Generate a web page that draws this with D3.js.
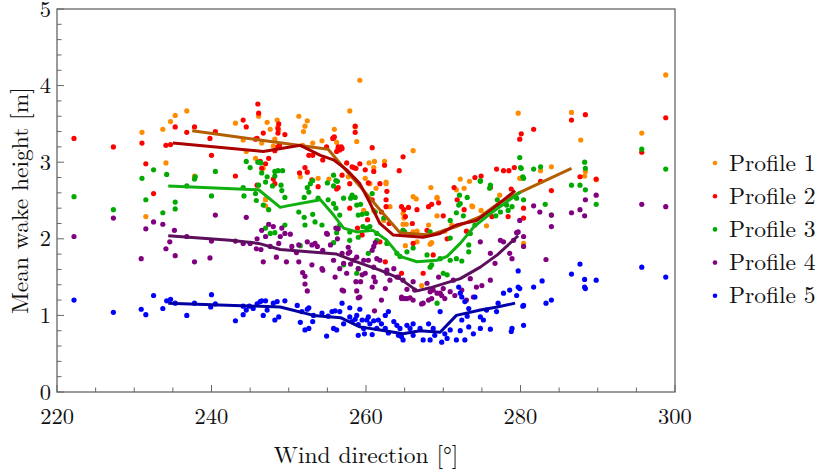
<!DOCTYPE html>
<html>
<head>
<meta charset="utf-8">
<script src="https://cdn.jsdelivr.net/npm/d3@7"></script>
<style>
body { margin: 0; background: #fff; }
</style>
</head>
<body>
<div id="chart"></div>
<script>
let CHART_WIDTH = 818;
let CHART_HEIGHT = 473;
let FONT = "'Latin Modern Roman', 'Liberation Serif', serif";

var seriesNames = ["Profile 1", "Profile 2", "Profile 3", "Profile 4", "Profile 5"];
var xTicks = [220, 240, 260, 280, 300];
var yTicks = [0, 1, 2, 3, 4, 5];

// scatter points [wind direction, mean wake height]
var profile1Points = [[231.0,3.39],[233.7,3.43],[234.1,2.99],[234.7,3.53],[235.3,3.61],[236.8,3.67],[237.8,2.82],[243.1,3.51],[244.5,3.14],[246.1,3.60],[245.7,3.05],[247.2,3.52],[247.6,3.43],[248.0,3.21],[248.5,3.55],[248.6,3.46],[231.5,2.29],[247.0,2.51],[244.1,3.29],[246.7,2.92],[246.5,3.25],[247.0,2.43],[248.2,3.30],[248.7,3.42],[251.3,3.60],[251.9,3.40],[252.1,3.47],[252.4,3.54],[251.8,3.22],[253.1,3.25],[251.5,2.81],[253.8,2.79],[254.3,3.28],[255.2,2.78],[255.9,3.43],[256.2,3.26],[256.3,3.16],[257.7,2.81],[257.9,3.67],[258.6,3.46],[258.8,3.27],[259.2,4.07],[260.4,2.99],[261.1,3.01],[261.0,2.93],[259.9,2.79],[260.5,2.72],[261.3,2.66],[259.7,2.37],[261.0,2.37],[247.0,2.52],[262.4,3.01],[262.6,2.74],[266.1,3.15],[268.4,2.67],[269.2,2.53],[272.2,2.78],[273.4,2.75],[272.7,2.66],[271.7,2.64],[279.7,3.64],[280.0,2.79],[282.6,2.89],[284.0,2.94],[286.6,3.65],[287.8,3.29],[288.3,2.82],[288.4,2.88],[289.8,2.77],[295.7,3.38],[298.8,4.14],[262.6,2.72],[266.1,2.55],[266.5,2.52],[263.1,2.42],[264.8,2.33],[264.9,2.27],[265.2,2.19],[266.1,2.09],[269.2,2.54],[269.2,2.30],[268.1,2.18],[273.8,2.42],[274.9,2.37],[275.6,2.17],[277.3,2.57],[279.9,2.79],[262.3,2.24],[265.1,1.91],[266.6,1.96],[267.2,1.39],[268.3,1.93],[280.4,1.94],[264.8,2.19],[266.6,2.10],[268.5,1.95],[270.2,2.10],[271.1,2.18],[273.7,2.43]];
var profile2Points = [[222.2,3.31],[227.3,3.20],[231.0,3.25],[231.5,2.98],[232.5,2.59],[234.1,3.22],[234.7,3.23],[235.3,3.46],[237.8,3.46],[236.8,3.39],[240.0,3.09],[240.5,3.40],[239.8,3.31],[243.1,2.82],[244.1,3.55],[244.5,3.46],[246.0,3.76],[246.1,3.64],[245.9,3.31],[245.7,3.30],[246.3,3.01],[246.5,2.92],[247.0,2.98],[247.4,3.05],[246.7,3.38],[248.0,2.78],[248.2,2.72],[245.9,2.70],[248.6,3.20],[248.7,3.50],[248.6,3.44],[248.8,3.22],[248.6,3.38],[249.5,3.36],[248.2,3.15],[251.4,2.86],[252.1,2.93],[252.4,2.87],[252.6,3.09],[253.1,3.09],[253.0,2.77],[253.8,2.68],[254.4,3.03],[255.7,3.31],[255.9,3.33],[256.4,3.20],[256.6,3.16],[256.9,3.18],[256.2,3.14],[256.2,2.65],[256.4,2.67],[256.9,2.83],[257.9,2.72],[257.9,2.40],[258.4,2.93],[258.7,2.92],[259.2,2.98],[258.6,3.47],[258.6,3.39],[260.8,3.19],[259.9,2.90],[260.3,2.73],[260.8,2.51],[254.9,3.20],[255.8,3.32],[256.8,3.20],[262.4,2.96],[261.0,2.88],[262.7,2.62],[261.8,2.72],[262.6,2.51],[262.6,2.42],[264.8,3.07],[264.3,2.89],[264.6,2.42],[264.9,2.38],[265.1,2.29],[265.5,2.41],[266.6,2.38],[268.1,2.42],[268.5,2.45],[269.4,2.47],[267.9,2.11],[271.4,2.67],[271.8,2.51],[272.7,2.38],[274.1,2.80],[274.9,2.82],[276.1,2.67],[276.3,2.29],[276.9,2.91],[277.8,2.89],[278.5,2.89],[279.2,2.93],[278.8,2.65],[279.9,3.30],[280.1,3.37],[280.4,2.40],[280.4,2.27],[278.4,2.29],[281.7,3.43],[282.6,2.75],[284.0,2.63],[286.6,3.55],[288.4,3.62],[287.7,2.81],[289.8,2.78],[295.7,3.13],[298.8,3.58],[257.5,2.99],[258.2,2.94],[261.8,1.96],[262.5,1.70],[264.6,1.55],[266.1,1.94],[267.4,1.55],[268.7,1.79],[264.8,2.11],[258.9,2.14],[259.5,2.05],[260.2,2.25],[263.0,2.20],[266.0,2.20],[270.5,2.00],[273.0,2.10],[262.0,2.35],[270.0,2.30]];
var profile3Points = [[222.2,2.55],[227.3,2.38],[231.0,2.79],[231.5,2.51],[232.5,2.90],[233.7,2.34],[234.2,2.84],[235.3,2.48],[235.3,2.39],[236.8,2.69],[237.8,2.78],[237.9,2.81],[240.0,2.56],[240.5,2.88],[244.1,2.67],[244.2,2.56],[244.5,3.01],[245.0,2.93],[245.7,2.59],[245.8,2.50],[246.0,3.00],[246.4,2.99],[246.5,2.86],[246.1,2.70],[246.7,2.44],[247.0,2.74],[247.2,2.81],[247.4,2.38],[247.0,2.14],[247.6,2.07],[248.2,2.88],[248.2,2.82],[248.2,2.08],[247.9,2.69],[248.6,2.89],[249.0,2.70],[249.1,2.63],[249.2,2.89],[249.5,2.54],[249.5,2.18],[251.3,2.35],[251.5,1.91],[252.0,2.54],[252.0,2.28],[252.1,2.18],[252.4,2.67],[252.6,2.61],[252.8,2.72],[253.1,2.76],[253.1,2.32],[253.4,2.22],[253.8,2.53],[254.3,2.18],[255.0,2.73],[255.1,2.51],[255.8,2.83],[256.1,2.76],[255.8,2.69],[256.3,2.75],[255.8,2.46],[256.1,2.40],[256.6,2.31],[255.8,1.95],[256.2,2.08],[256.6,2.18],[257.1,2.53],[257.9,2.09],[257.9,1.98],[258.0,2.53],[258.2,2.57],[258.6,2.54],[258.8,2.44],[259.3,2.45],[259.0,2.31],[259.5,2.32],[260.1,2.33],[260.8,2.59],[261.2,2.35],[259.0,2.02],[257.1,1.66],[258.8,1.55],[259.0,1.61],[260.3,1.81],[260.1,2.14],[260.5,2.16],[261.4,2.07],[261.4,1.98],[259.6,2.16],[262.3,2.27],[264.8,2.11],[265.0,2.09],[268.3,2.09],[270.9,2.24],[272.0,2.44],[272.2,2.46],[273.1,2.54],[271.7,2.34],[272.6,2.30],[272.1,2.57],[274.8,2.76],[276.1,2.70],[276.0,2.66],[277.0,2.51],[277.1,2.44],[278.4,2.37],[278.9,2.42],[279.5,2.53],[280.3,2.81],[279.9,3.06],[280.1,2.92],[280.4,2.51],[278.2,2.44],[277.4,2.35],[276.8,2.30],[274.1,2.18],[273.5,2.07],[270.9,2.01],[262.7,1.94],[264.0,1.81],[264.4,1.77],[265.3,1.83],[266.1,1.88],[267.9,1.79],[268.3,1.63],[268.5,1.66],[269.6,1.74],[270.0,1.55],[270.5,1.53],[270.9,1.72],[271.7,1.74],[272.4,1.71],[273.3,1.83],[273.3,1.92],[269.2,1.16],[283.2,2.45],[284.0,2.31],[286.6,2.70],[287.7,2.70],[288.3,3.00],[288.4,2.92],[288.4,2.64],[289.8,2.45],[295.7,3.17],[298.8,2.91],[280.0,2.93],[280.4,2.79],[281.7,2.91],[282.6,2.94],[274.8,2.75]];
var profile4Points = [[222.2,2.03],[227.3,2.27],[230.9,1.74],[231.5,2.13],[232.5,2.22],[233.7,2.19],[234.1,1.87],[234.6,1.96],[235.2,2.11],[235.3,1.78],[236.8,2.03],[237.8,1.70],[239.8,1.75],[240.5,2.31],[240.0,1.97],[243.1,1.97],[244.5,2.28],[244.1,1.94],[245.0,1.94],[245.9,2.00],[245.8,1.87],[246.7,1.70],[246.5,2.11],[247.0,2.03],[247.4,2.19],[247.6,1.90],[248.0,2.16],[248.4,1.76],[248.7,1.94],[246.4,1.86],[248.9,2.03],[249.1,2.14],[249.7,1.70],[250.4,1.90],[251.0,1.82],[251.3,1.70],[252.4,1.96],[253.0,1.92],[253.7,1.90],[254.4,1.85],[255.0,2.06],[255.4,1.92],[256.1,2.14],[256.3,2.00],[255.8,1.72],[256.6,1.61],[256.9,1.81],[254.4,1.59],[251.8,1.56],[252.1,1.51],[252.1,1.41],[252.4,1.32],[256.0,1.50],[257.1,1.32],[257.7,1.81],[258.0,1.67],[257.7,1.89],[258.8,1.76],[259.0,1.61],[258.7,1.44],[258.8,1.32],[259.0,1.23],[259.5,1.53],[259.9,1.55],[259.3,1.44],[260.3,1.72],[260.8,1.85],[261.0,1.50],[260.8,1.37],[261.2,1.44],[261.4,1.74],[261.0,1.90],[261.2,1.95],[261.1,1.06],[249.5,2.07],[250.2,2.06],[251.3,1.92],[253.0,1.66],[253.4,1.94],[254.3,1.61],[254.9,2.07],[256.4,2.13],[257.1,1.68],[256.9,1.33],[257.5,1.55],[257.9,1.83],[258.4,1.72],[259.2,1.24],[259.7,1.72],[261.0,1.63],[261.8,1.72],[262.5,1.35],[262.7,1.59],[263.1,1.46],[264.0,1.50],[264.6,1.22],[265.0,1.22],[265.3,1.34],[265.7,1.23],[266.1,1.44],[266.3,1.33],[267.2,1.15],[267.9,1.42],[268.5,1.22],[268.7,1.33],[269.4,1.50],[269.6,1.29],[270.0,1.35],[270.2,1.22],[270.9,1.31],[271.3,1.46],[271.5,1.26],[272.4,1.33],[273.0,1.20],[273.5,1.48],[273.9,1.24],[274.3,1.37],[274.8,1.96],[275.0,1.39],[276.1,1.81],[276.1,1.46],[276.7,1.68],[277.4,1.98],[277.8,1.96],[278.6,1.81],[278.9,1.74],[279.1,1.98],[279.5,2.08],[279.7,2.09],[280.4,2.03],[280.4,1.90],[279.9,2.24],[281.7,2.43],[282.5,2.35],[283.3,1.73],[284.0,2.16],[284.0,2.31],[286.6,2.34],[287.7,2.38],[288.3,2.30],[288.4,2.51],[289.8,2.57],[295.7,2.45],[298.8,2.42],[262.7,1.55],[263.6,1.61],[264.2,1.50],[264.8,1.46],[265.3,1.22],[266.1,1.20],[262.0,1.20],[264.6,1.24],[267.4,1.16],[268.3,1.31],[269.2,1.29],[269.8,1.26],[268.1,1.20]];
var profile5Points = [[222.2,1.20],[227.3,1.04],[230.9,1.08],[231.5,1.01],[232.5,1.26],[233.7,1.09],[234.2,1.19],[234.7,1.21],[235.3,1.16],[236.8,1.00],[237.8,1.16],[240.0,1.27],[239.9,1.11],[240.5,1.15],[243.1,0.93],[244.1,1.01],[244.5,1.07],[244.1,1.12],[244.9,1.12],[245.4,1.09],[245.9,1.15],[246.3,1.18],[247.0,1.19],[246.7,1.00],[247.2,1.07],[248.5,1.18],[248.2,0.94],[246.5,1.19],[248.0,1.16],[249.5,1.19],[248.7,0.98],[251.1,1.13],[251.7,1.05],[252.4,1.08],[252.6,1.10],[251.5,0.91],[252.1,0.81],[252.6,0.83],[253.1,0.92],[253.2,1.00],[254.3,1.03],[255.1,0.99],[255.6,1.05],[256.0,1.06],[256.9,1.16],[256.6,1.05],[254.9,0.73],[255.8,0.83],[256.2,0.81],[257.1,0.89],[257.9,1.10],[257.9,0.98],[258.2,0.92],[258.6,0.95],[258.8,1.00],[259.0,0.88],[259.2,1.08],[259.5,0.94],[259.7,0.83],[260.1,0.94],[260.3,0.98],[260.5,0.89],[261.0,0.93],[261.4,0.83],[259.0,0.74],[259.8,0.76],[260.8,0.75],[261.6,0.94],[262.5,1.00],[262.9,1.05],[262.0,0.89],[262.5,0.83],[262.9,0.77],[263.6,0.92],[264.0,0.87],[264.4,0.83],[264.2,0.74],[264.6,0.72],[264.8,0.68],[265.3,0.87],[265.7,0.83],[266.1,0.74],[266.1,0.89],[267.0,0.83],[267.4,0.68],[268.1,0.89],[268.3,0.68],[268.7,0.83],[268.9,0.74],[269.6,1.05],[269.8,0.65],[270.2,0.76],[270.5,0.70],[270.9,0.81],[271.7,0.68],[272.2,0.80],[272.4,0.94],[272.8,0.68],[273.3,0.85],[273.1,0.99],[272.0,1.37],[272.2,1.29],[272.4,1.24],[272.8,1.18],[273.3,1.09],[274.1,1.24],[273.9,0.76],[274.8,0.83],[275.2,0.94],[276.1,0.82],[275.6,1.07],[274.8,0.98],[277.1,1.16],[276.9,1.05],[277.8,1.29],[278.6,1.33],[278.9,0.83],[278.8,0.79],[279.7,1.37],[279.9,1.35],[279.5,1.26],[280.4,1.13],[280.4,0.87],[279.7,1.58],[280.3,1.12],[281.7,1.37],[282.8,1.45],[283.3,1.16],[284.0,1.20],[286.6,1.54],[287.7,1.67],[288.3,1.47],[288.3,1.37],[288.4,1.35],[289.8,1.46],[295.7,1.63],[298.8,1.50]];

// smoothed mean lines
var profile1Line = [[237.5,3.41],[255.1,3.17],[257.0,2.94],[259.6,2.64],[261.8,2.38],[264.4,2.08],[268.3,2.05],[271.7,2.16],[274.8,2.29],[277.4,2.48],[280.0,2.61],[286.6,2.92]];
var profile2Line = [[235.0,3.25],[246.7,3.14],[251.5,3.22],[254.1,3.09],[255.8,3.03],[257.5,2.90],[259.2,2.72],[260.5,2.47],[261.8,2.20],[263.5,2.05],[267.4,2.02],[269.6,2.07],[271.7,2.18],[274.3,2.24],[276.5,2.40],[279.3,2.63]];
var profile3Line = [[234.4,2.69],[246.1,2.64],[248.9,2.41],[249.8,2.43],[254.1,2.51],[255.8,2.31],[257.1,2.14],[258.8,2.09],[260.9,2.11],[262.7,1.98],[264.4,1.77],[266.6,1.70],[269.2,1.72],[270.5,1.77],[272.2,1.94],[274.0,2.16],[276.1,2.33],[278.2,2.48],[280.0,2.61]];
var profile4Line = [[234.4,2.04],[242.4,1.98],[246.1,1.94],[248.9,1.86],[256.2,1.80],[258.8,1.70],[261.8,1.59],[264.4,1.48],[266.6,1.32],[268.3,1.36],[272.2,1.48],[274.8,1.63],[277.0,1.79],[279.7,2.04]];
var profile5Line = [[234.4,1.16],[248.9,1.11],[253.2,1.00],[256.7,0.97],[259.2,0.85],[261.8,0.81],[264.8,0.76],[267.0,0.80],[269.6,0.78],[271.7,1.00],[274.8,1.07],[277.0,1.11],[279.3,1.16]];

var pointColors = ["#ff8c00", "#ff0000", "#00aa00", "#800080", "#0000ff"];
var lineColors = ["#b35f00", "#aa0000", "#11b011", "#5c0f5c", "#0000a6"];

var allPoints = [profile1Points, profile2Points, profile3Points, profile4Points, profile5Points];
var allLines = [profile1Line, profile2Line, profile3Line, profile4Line, profile5Line];

var margin = {left: 57, top: 9, right: 143, bottom: 81};
var w = CHART_WIDTH - margin.left - margin.right;
var h = CHART_HEIGHT - margin.top - margin.bottom;

var svg = d3.select("#chart").append("svg")
	.attr("width", CHART_WIDTH)
	.attr("height", CHART_HEIGHT);

var g = svg.append("g").attr("transform", "translate(" + margin.left + "," + margin.top + ")");

var xScale = d3.scaleLinear().domain([220, 300]).range([0, w]);
var yScale = d3.scaleLinear().domain([0, 5]).range([h, 0]);

// points
allPoints.forEach(function (pts, i) {
	g.append("g").selectAll("circle")
		.data(pts)
		.enter().append("circle")
		.attr("cx", d => xScale(d[0]))
		.attr("cy", d => yScale(d[1]))
		.attr("r", 2.6)
		.style("fill", pointColors[i]);
});

// lines on top
var line = d3.line().x(d => xScale(d[0])).y(d => yScale(d[1]));
allLines.forEach(function (pts, i) {
	g.append("path")
		.datum(pts)
		.attr("d", line)
		.style("fill", "none")
		.style("stroke", lineColors[i])
		.style("stroke-width", 3)
		.style("stroke-linejoin", "round");
});

// frame
g.append("rect")
	.attr("width", w).attr("height", h)
	.style("fill", "none").style("stroke", "#666").style("stroke-width", 1.3);

// x ticks (inside)
var xMinor = d3.range(220, 301, 5);
g.selectAll(".xt").data(xMinor).enter().append("line")
	.attr("x1", d => xScale(d)).attr("x2", d => xScale(d))
	.attr("y1", h).attr("y2", d => h - (d % 20 == 0 ? 7 : 4.5))
	.style("stroke", "#666").style("stroke-width", 1);
g.selectAll(".xl").data(xTicks).enter().append("text")
	.attr("x", d => xScale(d)).attr("y", h + 32)
	.attr("text-anchor", "middle")
	.style("font-family", FONT)
	.style("font-size", "22.5px").style("fill", "#111")
	.text(d => d);

// y ticks (inside)
var yMinor = d3.range(0, 5.01, 0.2);
g.selectAll(".yt").data(yMinor).enter().append("line")
	.attr("y1", d => yScale(d)).attr("y2", d => yScale(d))
	.attr("x1", 0).attr("x2", d => (Math.abs(d - Math.round(d)) < 0.01 ? 7 : 4.5))
	.style("stroke", "#666").style("stroke-width", 1);
g.selectAll(".yl").data(yTicks).enter().append("text")
	.attr("x", -6).attr("y", d => yScale(d) + 7.5)
	.attr("text-anchor", "end")
	.style("font-family", FONT)
	.style("font-size", "22.5px").style("fill", "#111")
	.text(d => d);

// axis titles
svg.append("text")
	.attr("x", margin.left + w / 2).attr("y", 463)
	.attr("text-anchor", "middle")
	.style("font-family", FONT)
	.style("font-size", "23.5px").style("fill", "#111")
	.text("Wind direction [°]");
svg.append("text")
	.attr("transform", "translate(28," + (margin.top + h / 2) + ") rotate(-90)")
	.attr("text-anchor", "middle")
	.style("font-family", FONT)
	.style("font-size", "23.5px").style("fill", "#111")
	.text("Mean wake height [m]");

// legend
var legend = svg.append("g").attr("transform", "translate(715,163)");
seriesNames.forEach(function (name, i) {
	legend.append("circle")
		.attr("cx", 0).attr("cy", i * 33.2)
		.attr("r", 2.3)
		.style("fill", pointColors[i]);
	legend.append("text")
		.attr("x", 14).attr("y", i * 33.2 + 7.5)
		.style("font-family", FONT)
		.style("font-size", "23.5px").style("fill", "#111")
		.text(name);
});
</script>
</body>
</html>
